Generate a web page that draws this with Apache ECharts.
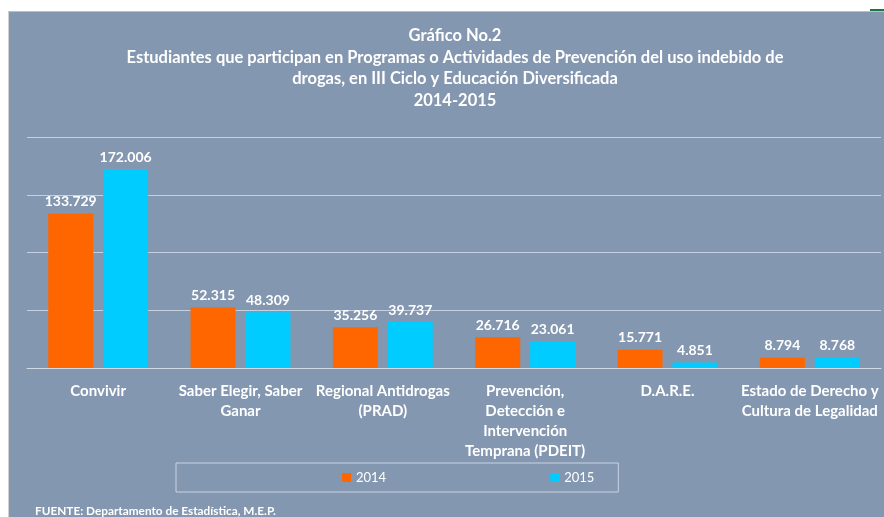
<!DOCTYPE html>
<html>
<head>
<meta charset="utf-8">
<script src="https://cdn.jsdelivr.net/npm/echarts@6/dist/echarts.min.js"></script>
<style>
  html, body { margin: 0; padding: 0; background: #ffffff; width: 884px; height: 517px; overflow: hidden; }
  #frame { position: absolute; left: 8px; top: 11px; width: 876px; height: 506px;
           border-top: 1px solid #bfbfbf; border-left: 1px solid #d0d0d0; }
  #chart { position: absolute; left: 0; top: 0; width: 876px; height: 506px; }
  #sel { position: absolute; left: 870px; top: 9px; width: 14px; height: 2px; background: #217346; }
</style>
</head>
<body>
<div id="frame"><div id="chart"></div></div>
<div id="sel"></div>
<script>
// ---- data ----
const categories = [
  'Convivir',
  'Saber Elegir, Saber\nGanar',
  'Regional Antidrogas\n(PRAD)',
  'Prevención,\nDetección e\nIntervención\nTemprana (PDEIT)',
  'D.A.R.E.',
  'Estado de Derecho y\nCultura de Legalidad'
];
const seriesNames = ['2014', '2015'];
const values2014 = [133729, 52315, 35256, 26716, 15771, 8794];
const values2015 = [172006, 48309, 39737, 23061, 4851, 8768];
const titleLines = [
  'Gráfico No.2',
  'Estudiantes que participan en Programas o Actividades de Prevención del uso indebido de',
  'drogas, en III Ciclo y Educación Diversificada',
  '2014-2015'
];
const sourceText = 'FUENTE: Departamento de Estadística, M.E.P.';

// ---- chart ----
const FONT = 'Lato, "Open Sans", sans-serif';
const fmt = v => String(v).replace(/\B(?=(\d{3})+(?!\d))/g, '.');

const chart = echarts.init(document.getElementById('chart'), null, { renderer: 'canvas' });
const labelCfg = {
  show: true, position: 'top', distance: 5,
  color: '#ffffff', fontFamily: FONT, fontWeight: 'bold', fontSize: 14,
  formatter: p => fmt(p.value)
};
chart.setOption({
  backgroundColor: '#8497B0',
  animation: false,
  title: [{
    text: titleLines.join('\n'),
    left: 446, top: 13, padding: 0,
    textAlign: 'center',
    textStyle: { color: '#ffffff', fontFamily: FONT, fontWeight: 'bold', fontSize: 16.5, lineHeight: 21.5 }
  }, {
    text: sourceText,
    left: 26, top: 493, padding: 0,
    textStyle: { color: '#ffffff', fontFamily: FONT, fontWeight: 'bold', fontSize: 11.8 }
  }],
  legend: {
    data: seriesNames,
    left: 167, top: 451,
    orient: 'horizontal',
    itemWidth: 9, itemHeight: 9, itemGap: 164,
    padding: [8, 24, 8, 166],
    borderColor: '#C9D3E3', borderWidth: 1,
    icon: 'rect',
    textStyle: { color: '#ffffff', fontFamily: FONT, fontSize: 13 }
  },
  grid: { left: 18, right: 4, top: 125, bottom: 150, containLabel: false },
  xAxis: {
    type: 'category',
    data: categories,
    axisLine: { show: true, lineStyle: { color: '#D3DBE7', width: 1 } },
    axisTick: { show: false },
    axisLabel: {
      interval: 0, margin: 13,
      color: '#ffffff', fontFamily: FONT, fontWeight: 'bold', fontSize: 15, lineHeight: 20
    }
  },
  yAxis: {
    type: 'value', min: 0, max: 200000, interval: 50000,
    axisLabel: { show: false },
    axisLine: { show: false }, axisTick: { show: false },
    splitLine: { lineStyle: { color: '#C5D1E3', width: 1 } }
  },
  series: [{
    name: seriesNames[0], type: 'bar', data: values2014,
    barWidth: 45, barGap: '22%',
    itemStyle: { color: '#FF6600' },
    label: labelCfg
  }, {
    name: seriesNames[1], type: 'bar', data: values2015,
    barWidth: 45, barGap: '22%',
    itemStyle: { color: '#00CCFF' },
    label: labelCfg
  }]
});
</script>
</body>
</html>
